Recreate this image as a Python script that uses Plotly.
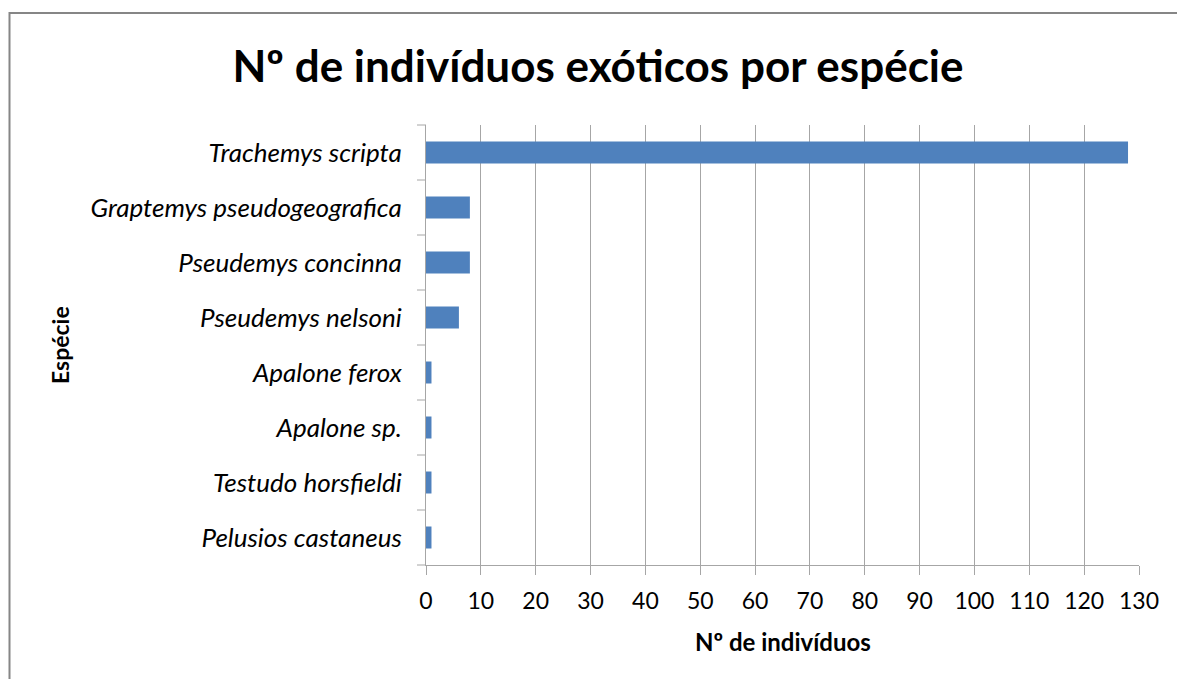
import plotly.graph_objects as go

especies = [
    "Trachemys scripta",
    "Graptemys pseudogeografica",
    "Pseudemys concinna",
    "Pseudemys nelsoni",
    "Apalone ferox",
    "Apalone sp.",
    "Testudo horsfieldi",
    "Pelusios castaneus",
]
individuos = [128, 8, 8, 6, 1, 1, 1, 1]
x_ticks = list(range(0, 131, 10))

FONT = "Lato, sans-serif"
GRID = "#a6a6a6"

# plot area in pixels: x 426..1139, y 125..565
L, R, T, B = 426, 38, 125, 114
W, H = 1177, 679
pw, ph = W - L - R, H - T - B


def px_x(p):
    return (p - L) / pw


def px_y(p):
    return (H - B - p) / ph


fig = go.Figure()
fig.add_trace(go.Bar(
    x=individuos,
    y=especies,
    orientation="h",
    marker=dict(color="#4F81BD", line=dict(width=0)),
    hoverinfo="x+y",
))

fig.update_layout(
    width=W,
    height=H,
    paper_bgcolor="white",
    plot_bgcolor="white",
    font=dict(family=FONT, size=20, color="black"),
    margin=dict(l=L, r=R, t=T, b=B),
    bargap=0.6,
    showlegend=False,
    title=dict(
        text="<b>Nº de indivíduos exóticos por espécie</b>",
        x=598 / W, xanchor="center",
        y=1 - 67 / H, yanchor="middle",
        font=dict(family=FONT, size=44, color="black"),
    ),
    xaxis=dict(
        range=[0, 130],
        tickvals=x_ticks,
        showgrid=True,
        gridcolor=GRID,
        gridwidth=1,
        zeroline=False,
        showline=True,
        linecolor=GRID,
        ticks="outside",
        ticklen=9,
        tickcolor=GRID,
        tickfont=dict(size=23),
        ticklabelstandoff=6,
        fixedrange=True,
    ),
    yaxis=dict(
        categoryorder="array",
        categoryarray=especies[::-1],
        showgrid=False,
        showline=True,
        linecolor=GRID,
        ticks="",
        tickfont=dict(size=26, style="italic"),
        ticklabelstandoff=18,
        fixedrange=True,
    ),
)

# y axis tick marks sit between categories, like the original
for i in range(len(especies) + 1):
    fig.add_shape(
        type="line", xref="paper", yref="paper",
        x0=px_x(L - 9), x1=0, y0=i / len(especies), y1=i / len(especies),
        line=dict(color=GRID, width=1),
    )

# outer chart border
fig.add_shape(
    type="rect", xref="paper", yref="paper",
    x0=px_x(9.5), x1=px_x(W + 20), y0=px_y(H + 20), y1=px_y(13),
    line=dict(color="#868686", width=2),
    fillcolor="rgba(0,0,0,0)",
    layer="below",
)

fig.add_annotation(
    text="<b>Espécie</b>", xref="paper", yref="paper",
    x=px_x(60), y=0.5, xanchor="center", yanchor="middle",
    textangle=-90, showarrow=False,
    font=dict(family=FONT, size=23),
)
fig.add_annotation(
    text="<b>Nº de indivíduos</b>", xref="paper", yref="paper",
    x=0.5, y=px_y(641), xanchor="center", yanchor="middle",
    showarrow=False,
    font=dict(family=FONT, size=24),
)

fig.write_html(
    "out.html",
    config={"displayModeBar": False},
    post_script="document.body.style.margin='0';",
)
